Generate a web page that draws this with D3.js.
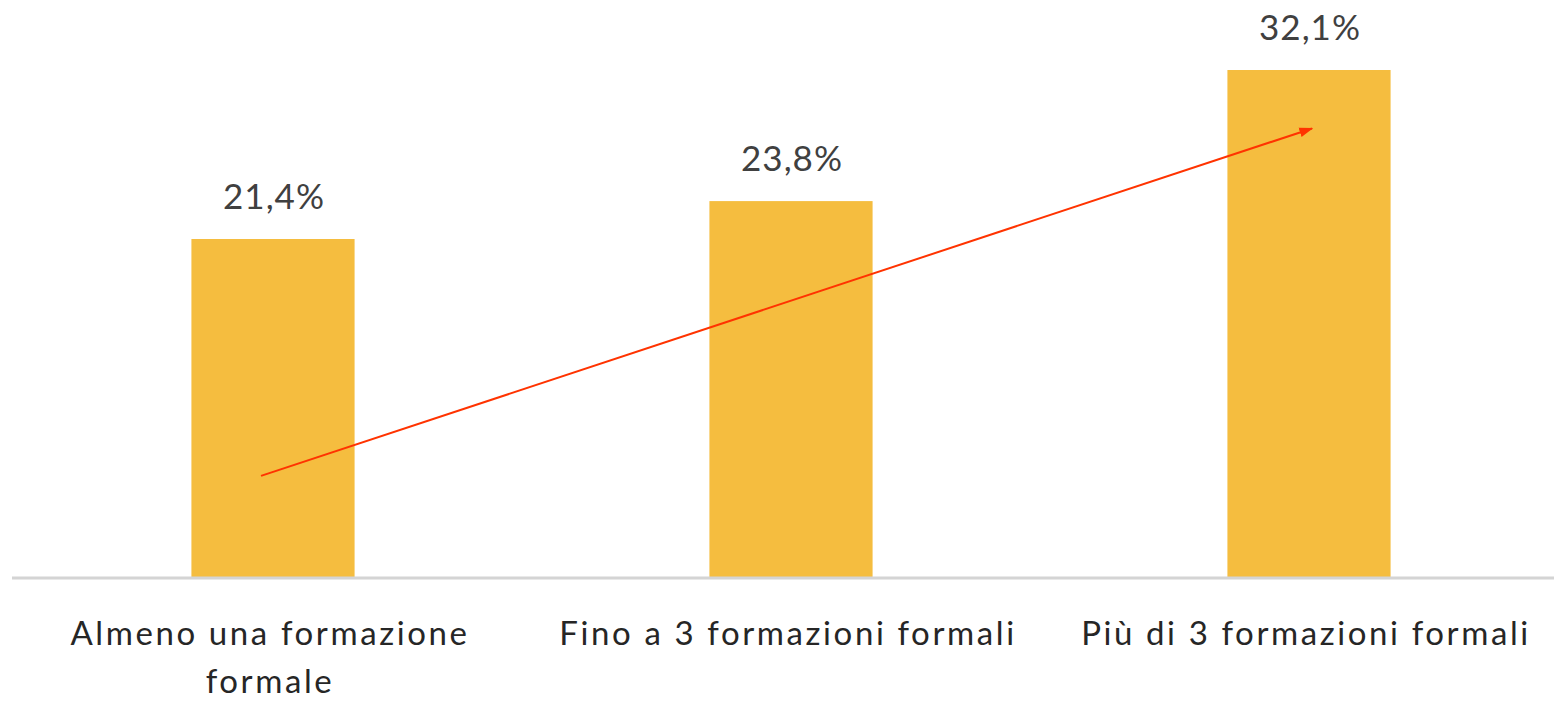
<!DOCTYPE html>
<meta charset="utf-8">
<title>Formazioni formali</title>
<script src="https://d3js.org/d3.v7.min.js"></script>
<style>
  body { margin: 0; background: #fff; }
  text { font-family: Lato, "Open Sans", sans-serif; }
</style>
<body>
<div id="chart"></div>
<script>
  // data
  var categories = [["Almeno una formazione", "formale"], ["Fino a 3 formazioni formali"], ["Più di 3 formazioni formali"]];
  var values = [21.4, 23.8, 32.1];
  var valueLabels = ["21,4%", "23,8%", "32,1%"];

  var width = 1554, height = 701,
      baseY = 577;

  var svg = d3.select("#chart").append("svg")
      .attr("width", width)
      .attr("height", height);

  var x = d3.scaleBand()
      .domain(d3.range(values.length))
      .range([14, 1568])
      .paddingInner(0.685)
      .paddingOuter(0.3425);

  var y = d3.scaleLinear()
      .domain([0, 32.1])
      .range([baseY, 70]);

  // bars
  svg.selectAll(".bar")
      .data(values)
      .enter().append("rect")
      .attr("class", "bar")
      .attr("x", (d, i) => x(i))
      .attr("y", d => y(d))
      .attr("width", x.bandwidth())
      .attr("height", d => baseY - y(d))
      .attr("fill", "#F5BD3F");

  // baseline
  svg.append("line")
      .attr("x1", 12).attr("x2", width)
      .attr("y1", baseY + 1).attr("y2", baseY + 1)
      .attr("stroke", "#d4d4d4")
      .attr("stroke-width", 3);

  // value labels
  svg.selectAll(".val")
      .data(values)
      .enter().append("text")
      .attr("class", "val")
      .attr("x", (d, i) => x(i) + x.bandwidth() / 2 + 1)
      .attr("y", d => y(d) - 30)
      .attr("text-anchor", "middle")
      .attr("font-size", "35px")
      .attr("letter-spacing", "1px")
      .attr("fill", "#404040")
      .text((d, i) => valueLabels[i]);

  // category labels
  var cat = svg.selectAll(".cat")
      .data(categories)
      .enter().append("text")
      .attr("class", "cat")
      .attr("text-anchor", "middle")
      .attr("font-size", "33px")
      .attr("letter-spacing", "2.6px")
      .attr("fill", "#262626");
  cat.selectAll("tspan")
      .data((d, i) => d.map(t => ({t: t, i: i})))
      .enter().append("tspan")
      .attr("x", d => x(d.i) + x.bandwidth() / 2 - 3)
      .attr("y", (d, j) => 645 + j * 48)
      .text(d => d.t);

  // trend arrow
  svg.append("defs").append("marker")
      .attr("id", "head")
      .attr("viewBox", "0 0 10 10")
      .attr("refX", 9).attr("refY", 5)
      .attr("markerWidth", 7).attr("markerHeight", 7)
      .attr("orient", "auto")
      .append("path")
      .attr("d", "M0,1.5L10,5L0,8.5Z")
      .attr("fill", "#FF3300");

  svg.append("line")
      .attr("x1", x(0) + x.bandwidth() / 2 - 12)
      .attr("y1", y(6.4))
      .attr("x2", x(2) + x.bandwidth() / 2 + 3)
      .attr("y2", y(28.4))
      .attr("stroke", "#FF3300")
      .attr("stroke-width", 2)
      .attr("marker-end", "url(#head)");
</script>
</body>
